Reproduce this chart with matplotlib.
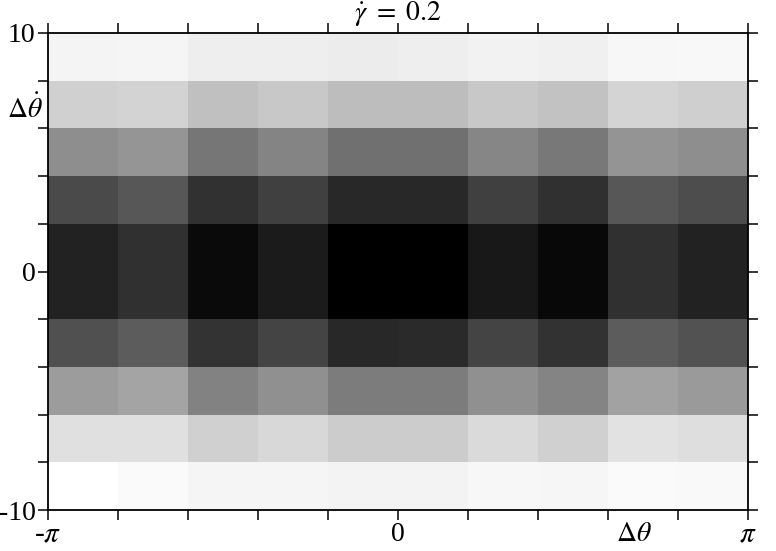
import numpy as np
import matplotlib
matplotlib.use("Agg")
import matplotlib.pyplot as plt

plt.rcParams['font.family'] = ['Liberation Serif', 'DejaVu Serif']
plt.rcParams['mathtext.fontset'] = 'stix'

# darkness of each cell (0 = white, 255 = black), rows from bottom (-10) to top (10)
row_m10 = [0, 5, 10, 10, 12, 12, 8, 9, 5, 6]
row_m8 = [31, 31, 47, 39, 51, 51, 37, 47, 29, 33]
row_m6 = [99, 91, 125, 111, 131, 131, 111, 123, 93, 101]
row_m4 = [175, 163, 204, 187, 215, 213, 187, 205, 163, 173]
row_m2 = [221, 207, 245, 228, 255, 255, 231, 247, 207, 221]
row_0 = [221, 207, 245, 228, 255, 255, 231, 247, 207, 221]
row_2 = [181, 168, 206, 191, 215, 215, 191, 207, 168, 178]
row_4 = [113, 106, 137, 123, 143, 143, 121, 135, 107, 113]
row_6 = [47, 44, 63, 55, 66, 66, 55, 61, 43, 48]
row_8 = [11, 10, 17, 17, 19, 17, 13, 15, 8, 7]

density = np.array([row_m10, row_m8, row_m6, row_m4, row_m2,
                    row_0, row_2, row_4, row_6, row_8])

x_edges = np.linspace(-np.pi, np.pi, 11)
y_edges = np.linspace(-10, 10, 11)

fig = plt.figure(figsize=(7.76, 5.51), dpi=100)
ax = fig.add_axes([48/776, 1-510/551, 700/776, 477/551])

ax.pcolormesh(x_edges, y_edges, density, cmap='gray_r', vmin=0, vmax=255)
ax.set_xlim(-np.pi, np.pi)
ax.set_ylim(-10, 10)

xlabels = [''] * 11
xlabels[0], xlabels[5], xlabels[10] = '-$\\pi$', '0', '$\\pi$'
ax.set_xticks(x_edges)
ax.set_xticklabels(xlabels)
ylabels = [''] * 11
ylabels[0], ylabels[5], ylabels[10] = '-10', '0', '10'
ax.set_yticks(y_edges)
ax.set_yticklabels(ylabels)

ax.tick_params(direction='out', length=7.5, width=1.1, labelsize=20,
               top=True, right=True, color='black')
ax.tick_params(axis='x', pad=1.0)
ax.tick_params(axis='y', pad=1.5)
for lab in ax.get_xticklabels():
    if 'pi' in lab.get_text():
        lab.set_fontsize(21)
for s in ax.spines.values():
    s.set_linewidth(1.3)

ax.annotate('$\\dot{\\gamma}\\ =\\ 0.2$', xy=(0.5, 1.0), xycoords='axes fraction',
            xytext=(0, 9.5), textcoords='offset points',
            ha='center', va='baseline', fontsize=20)
ax.annotate('$\\Delta\\dot{\\theta}$', xy=(0, 6.8), xycoords=('axes fraction', 'data'),
            xytext=(-17, 0), textcoords='offset points',
            ha='center', va='center', fontsize=20)
ax.annotate('$\\Delta\\theta$', xy=(2.12, 0), xycoords=('data', 'axes fraction'),
            xytext=(0, -8.5), textcoords='offset points',
            ha='center', va='top', fontsize=20)

fig.savefig('out.png', dpi=100)
